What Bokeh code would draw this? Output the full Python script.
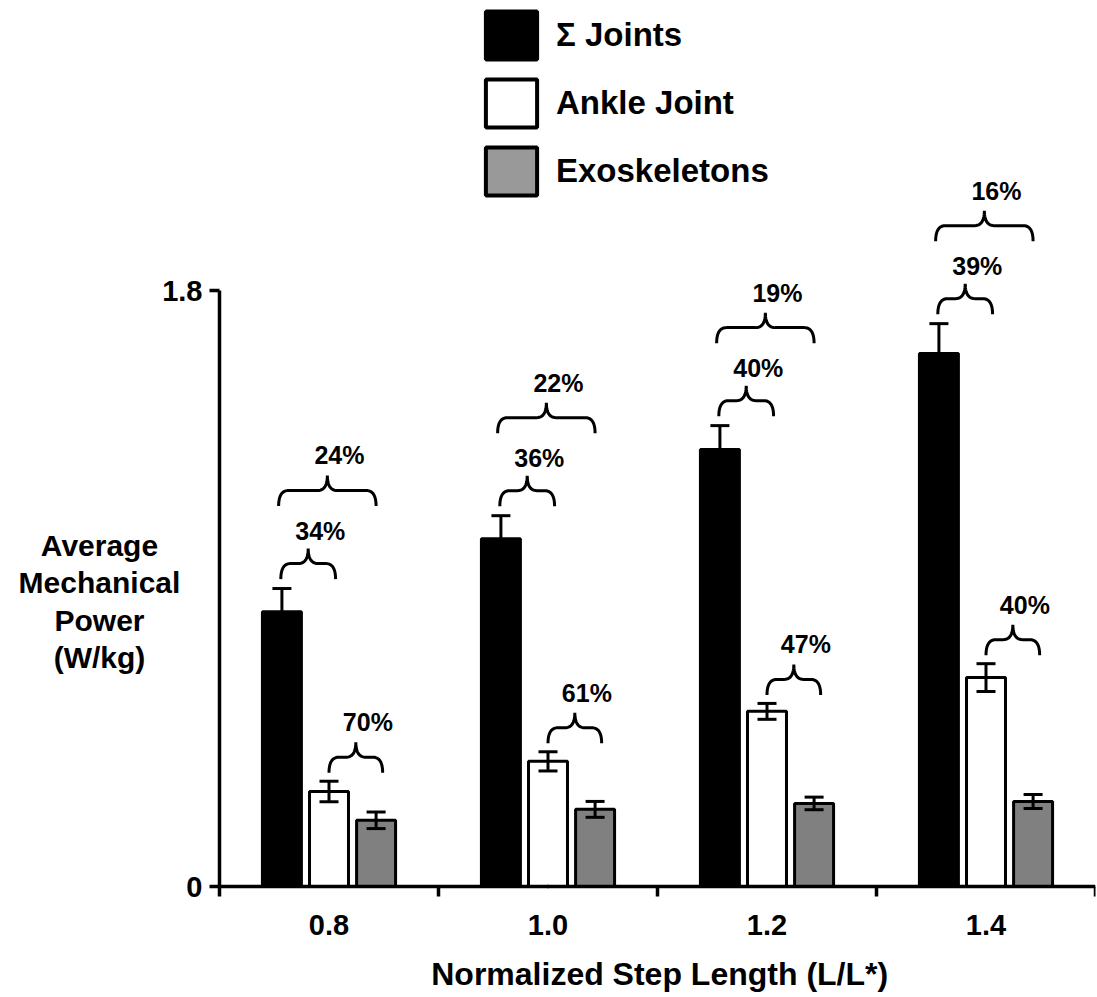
import numpy as np
from bokeh.plotting import figure
from bokeh.models import (Range1d, FixedTicker, ColumnDataSource, Whisker, TeeHead,
                          Legend, LegendItem)
from bokeh.core.properties import value
from bokeh.embed import file_html
from bokeh.resources import INLINE

# ---- data -------------------------------------------------------------
step_lengths = ["0.8", "1.0", "1.2", "1.4"]

joints = [0.83, 1.05, 1.32, 1.61]
joints_err = [0.07, 0.07, 0.072, 0.09]
ankle = [0.287, 0.378, 0.529, 0.631]
ankle_err = [0.031, 0.029, 0.024, 0.042]
exo = [0.20, 0.233, 0.251, 0.257]
exo_err = [0.025, 0.024, 0.019, 0.021]

ankle_of_joints = ["34%", "36%", "40%", "39%"]
exo_of_joints = ["24%", "22%", "19%", "16%"]
exo_of_ankle = ["70%", "61%", "47%", "40%"]

y_title_lines = ["Average", "Mechanical", "Power", "(W/kg)"]
x_title = "Normalized Step Length (L/L*)"

# ---- styling constants ------------------------------------------------
FONT = "Liberation Sans"
BAR_W = 0.178
OFFSET = 0.215
N = len(step_lengths)
X_LEFT = -1.0          # room left of the y axis for its horizontal title
Y_TOP = 2.676
Y_BOTTOM = -0.3352     # room below the x axis for tick labels and title
AXIS_W = 3.5

# the frame fills the canvas; both axes are pinned at the data origin
p = figure(width=1097, height=997, x_range=Range1d(X_LEFT, N),
           y_range=Range1d(Y_BOTTOM, Y_TOP), output_backend="svg",
           toolbar_location=None, min_border_left=0, min_border_right=2,
           min_border_top=0, min_border_bottom=0)
p.grid.visible = False
p.outline_line_color = None
p.background_fill_color = "white"
p.border_fill_color = "white"

xc = np.arange(N) + 0.5

# ---- bars with error bars ---------------------------------------------
series = [
    (joints, joints_err, "black", -OFFSET),
    (ankle, ankle_err, "white", 0.0),
    (exo, exo_err, "#808080", OFFSET),
]
for vals, errs, color, off in series:
    v = np.array(vals)
    e = np.array(errs)
    src = ColumnDataSource(dict(x=xc + off, top=v, upper=v + e, lower=v - e))
    p.vbar(x="x", top="top", bottom=0, width=BAR_W, source=src,
           fill_color=color, line_color="black", line_width=3)
    p.add_layout(Whisker(base="x", upper="upper", lower="lower", source=src,
                         level="annotation", line_color="black", line_width=3,
                         upper_head=TeeHead(size=19, line_width=3, line_color="black"),
                         lower_head=TeeHead(size=19, line_width=3, line_color="black")))


# ---- curly braces with ratio labels -----------------------------------
def brace(x0, x1, yh, drop=0.047, rise=0.045, rx=0.045):
    """Over-brace path between x0 and x1 whose flat part sits at yh."""
    xm = (x0 + x1) / 2
    t = np.linspace(0, 1, 14)

    def qb(a, b, c):
        return ((1 - t) ** 2 * a[0] + 2 * (1 - t) * t * b[0] + t ** 2 * c[0],
                (1 - t) ** 2 * a[1] + 2 * (1 - t) * t * b[1] + t ** 2 * c[1])

    parts = [qb((x0, yh - drop), (x0, yh), (x0 + rx, yh)),
             qb((xm - rx, yh), (xm, yh), (xm, yh + rise)),
             qb((xm, yh + rise), (xm, yh), (xm + rx, yh)),
             qb((x1 - rx, yh), (x1, yh), (x1, yh - drop))]
    return (list(np.concatenate([q[0] for q in parts])),
            list(np.concatenate([q[1] for q in parts])))


bx, by = [], []
lx, ly, lt = [], [], []
j_top = np.array(joints) + np.array(joints_err)
a_top = np.array(ankle) + np.array(ankle_err)
for i, c in enumerate(xc):
    # joints -> ankle
    x0, x1 = c - OFFSET - 0.005, c + 0.03
    yh = j_top[i] + 0.0755
    xs, ys = brace(x0, x1, yh)
    bx.append(xs); by.append(ys)
    lx.append((x0 + x1) / 2 + 0.055); ly.append(yh + 0.098); lt.append(ankle_of_joints[i])
    # joints -> exoskeleton
    x0, x1 = c - OFFSET - 0.015, c + OFFSET
    yh = j_top[i] + 0.296
    xs, ys = brace(x0, x1, yh)
    bx.append(xs); by.append(ys)
    lx.append((x0 + x1) / 2 + 0.055); ly.append(yh + 0.106); lt.append(exo_of_joints[i])
    # ankle -> exoskeleton
    x0, x1 = c + 0.0, c + OFFSET + 0.03
    yh = a_top[i] + 0.0725
    xs, ys = brace(x0, x1, yh)
    bx.append(xs); by.append(ys)
    lx.append((x0 + x1) / 2 + 0.055); ly.append(yh + 0.106); lt.append(exo_of_ankle[i])

p.multi_line(xs=bx, ys=by, line_color="black", line_width=3)
p.text(x=lx, y=ly, text=lt, text_font=value(FONT), text_font_style="bold",
       text_font_size="25px", text_align="center", text_baseline="middle",
       text_color="black")

# ---- axis titles --------------------------------------------------------
p.text(x=[-0.548] * len(y_title_lines),
       y=[1.03 - 0.1127 * k for k in range(len(y_title_lines))],
       text=y_title_lines, text_font=value(FONT), text_font_style="bold",
       text_font_size="30px", text_align="center", text_baseline="middle",
       text_color="black")
p.text(x=[N / 2 + 0.01], y=[-0.265], text=[x_title], text_font=value(FONT),
       text_font_style="bold", text_font_size="32px", text_align="center",
       text_baseline="middle", text_color="black")

# ---- legend (swatch renderers are degenerate bars lying on the x axis) ----
items = []
for name, color in [("Σ Joints", "black"), ("Ankle Joint", "white"),
                    ("Exoskeletons", "#999999")]:
    r = p.vbar(x=[1.5], top=[0], bottom=0, width=0.001, fill_color=color,
               line_color="black", line_width=4)
    items.append(LegendItem(label=name, renderers=[r]))
legend = Legend(items=items, location=(479, 796), glyph_width=64, glyph_height=60,
                spacing=8, label_standoff=13, padding=0, margin=0,
                border_line_color=None, background_fill_alpha=0,
                label_text_font=FONT, label_text_font_style="bold",
                label_text_font_size="33px", label_text_color="black")
p.add_layout(legend)

# ---- axes -------------------------------------------------------------
xa = p.xaxis[0]
xa.fixed_location = 0
xa.bounds = (0, N)
xa.ticker = FixedTicker(ticks=list(xc), minor_ticks=list(range(N + 1)))
xa.major_label_overrides = {float(c): s for c, s in zip(xc, step_lengths)}
xa.major_tick_out = 0
xa.major_tick_in = 0
xa.minor_tick_out = 10
xa.minor_tick_in = 0
xa.minor_tick_line_color = "black"
xa.minor_tick_line_width = AXIS_W
xa.axis_line_color = "black"
xa.axis_line_width = AXIS_W
xa.major_label_text_font = FONT
xa.major_label_text_font_style = "bold"
xa.major_label_text_font_size = "29px"
xa.major_label_text_color = "black"
xa.major_label_standoff = 18

ya = p.yaxis[0]
ya.fixed_location = 0
ya.ticker = FixedTicker(ticks=[0, 1.8])
ya.major_label_overrides = {0: "0", 1.8: "1.8"}
ya.bounds = (0, 1.8)
ya.major_tick_out = 10
ya.major_tick_in = 0
ya.minor_tick_out = 0
ya.minor_tick_in = 0
ya.major_tick_line_width = AXIS_W
ya.major_tick_line_color = "black"
ya.axis_line_color = "black"
ya.axis_line_width = AXIS_W
ya.major_label_text_font = FONT
ya.major_label_text_font_style = "bold"
ya.major_label_text_font_size = "29px"
ya.major_label_text_color = "black"
ya.major_label_standoff = 7

open("out.html", "w").write(file_html(p, INLINE))
